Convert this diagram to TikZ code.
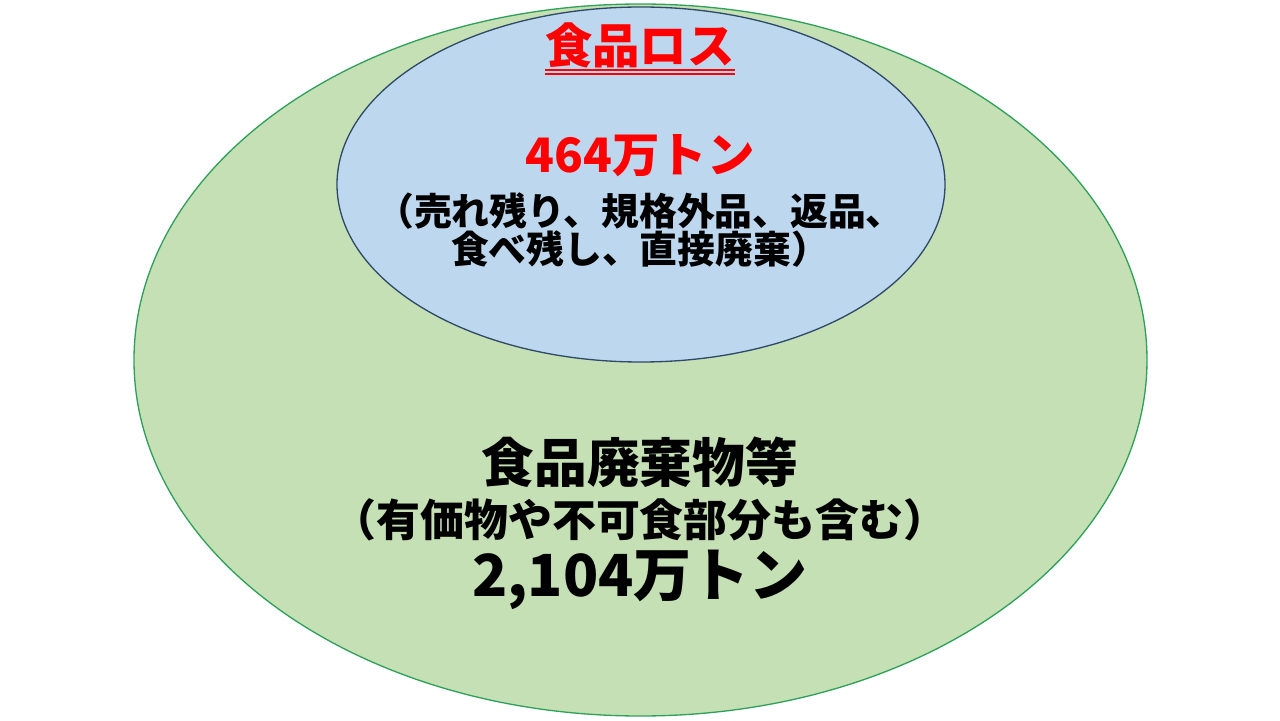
\documentclass[tikz,border=0pt]{standalone}
\usepackage{fontspec}
\newfontfamily\jpfont{Noto Sans CJK JP}
\definecolor{wastefill}{HTML}{C5E0B4}
\definecolor{wasteline}{HTML}{2EA05A}
\definecolor{lossfill}{HTML}{BDD7EE}
\definecolor{lossline}{HTML}{2F4A68}
\definecolor{lossred}{HTML}{FF0000}

\begin{document}
\begin{tikzpicture}[
	redbig/.style={text=lossred, inner sep=0pt, font=\jpfont\bfseries\fontsize{27}{30}\selectfont},
	losstxt/.style={align=center, inner sep=0pt, font=\jpfont\bfseries\fontsize{21.5}{22}\selectfont},
	wastetxt/.style={inner sep=0pt, font=\jpfont\bfseries\fontsize{30}{33}\selectfont}
]
		%%%%% START %%%%%
		
		\useasboundingbox (-12.8, -7.2) rectangle (12.8, 7.2);
		
		\draw[fill=wastefill, draw=wasteline, line width=0.75pt] (0.01, 0) ellipse (10.13 and 7.12);
		\draw[fill=lossfill, draw=lossline, line width=0.75pt] (0.02, 3.51) ellipse (6.08 and 3.55);
		
		\node[redbig] (losstitle) at (0, 6.3) {食品ロス};
		\draw[lossred, line width=0.8pt] ([yshift=-0.14cm]losstitle.base west) -- ([yshift=-0.14cm]losstitle.base east);
		\draw[lossred, line width=0.8pt] ([yshift=-0.22cm]losstitle.base west) -- ([yshift=-0.22cm]losstitle.base east);
		
		\node[redbig] (lossamount) at (0, 4.08) {464万トン};
		\node[losstxt] (lossitems) at (0, 2.6) {（売れ残り、規格外品、返品、\\食べ残し、直接廃棄）};
		
		\node[wastetxt] (wastetitle) at (0, -2.04) {食品廃棄物等};
		\node[wastetxt, font=\jpfont\bfseries\fontsize{25}{28}\selectfont] (wastenote) at (0, -3.2) {（有価物や不可食部分も含む）};
		\node[wastetxt, font=\jpfont\bfseries\fontsize{33}{36}\selectfont] (wasteamount) at (0, -4.4) {2,104万トン};
		
		%%%%% END %%%%%
\end{tikzpicture}
\end{document}
